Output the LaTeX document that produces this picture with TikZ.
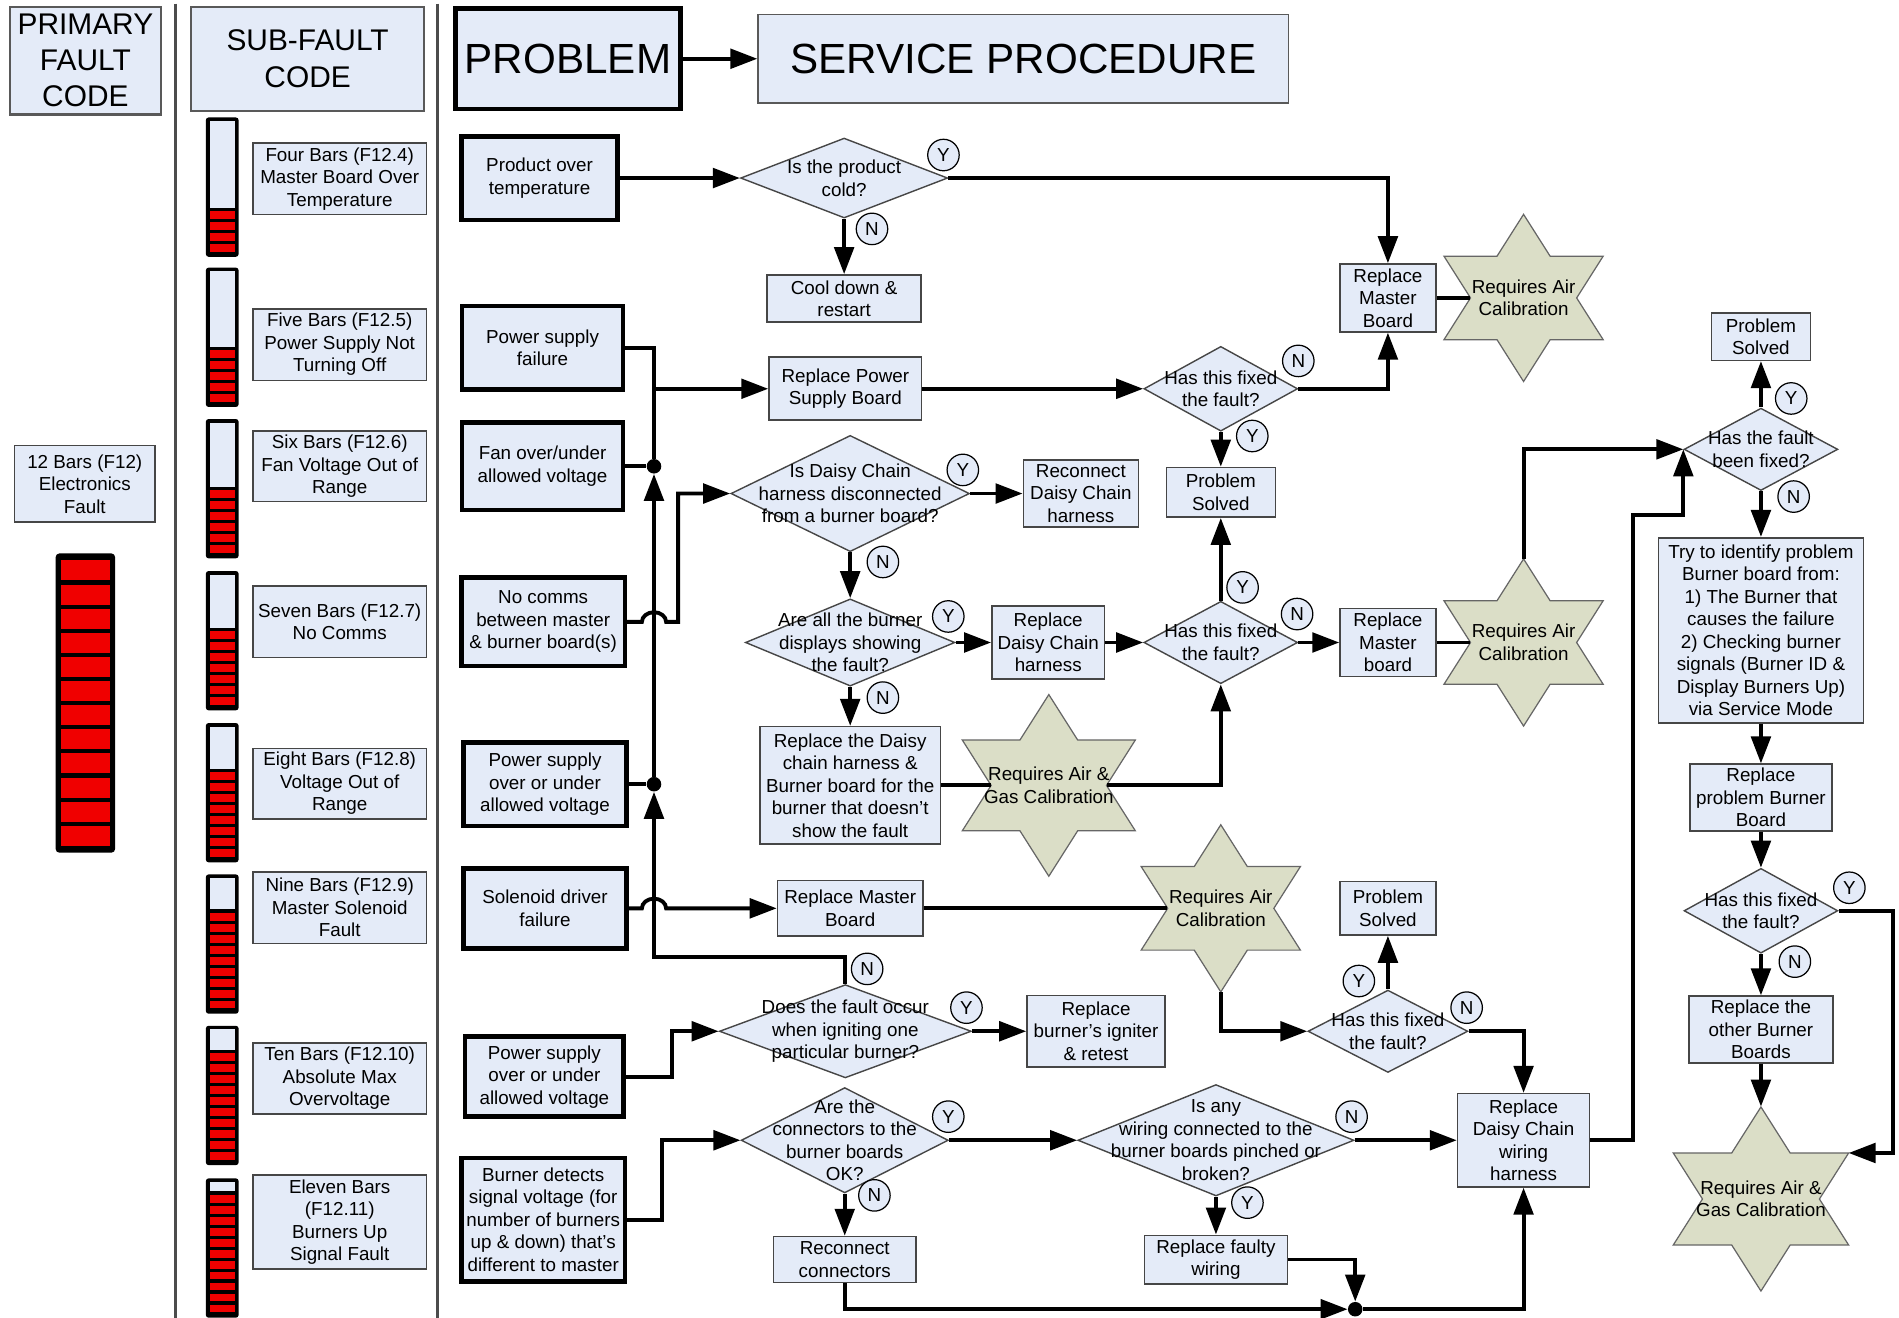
\documentclass[tikz,border=0pt]{standalone}
\usepackage{fontspec}
\setmainfont{Liberation Sans}
\usetikzlibrary{shapes.geometric,arrows.meta,positioning,calc}

\definecolor{boxfill}{RGB}{228,235,248}
\definecolor{starfill}{RGB}{219,222,199}
\definecolor{ledred}{RGB}{240,0,0}
\definecolor{edge}{RGB}{70,70,70}

\newcommand\pxu{0.02422cm}
\newcommand\boxfont{\fontsize{10.7}{12.8}\selectfont}

% LED bar: left x, top y, lit segments
\newcommand\ledbar[3]{%
  \fill[black, rounded corners=1.5pt] ({#1},{#2}) rectangle ++(27,115);
  \fill[boxfill] ({#1+3},{#2+3}) rectangle ({#1+24},{#2+3+(12-#3)*9.08-1.3});
  \foreach \j in {1,...,#3}
    \fill[ledred] ({#1+3},{#2+112-\j*9.08+1.3}) rectangle ({#1+24},{#2+112-(\j-1)*9.08-1.3});
}

% calibration star: name, x, y, outer radius, text
\newcommand\calstar[5]{%
  \filldraw[starshape, shift={(#2,#3)}] (0,-#4)
    \foreach \i [evaluate=\i as \rr using #4*(0.78868+0.21132*cos(180*\i))] in {1,...,11}
      { -- ({1.1*\rr*cos(90-30*\i)}, {-\rr*sin(90-30*\i)}) } -- cycle;
  \node[inner sep=0pt, sz={1.27*#4}{2*#4}] (#1) at (#2,#3) {};
  \node[qtext] (#1t) at (#1) {#5};
}

\begin{document}
\begin{tikzpicture}[
    x=\pxu, y=-\pxu,
    sz/.style 2 args={minimum width={#1*\pxu}, minimum height={#2*\pxu}},
    box/.style={rectangle, draw=edge, line width=0.9pt, fill=boxfill, align=center, inner sep=1pt, font=\boxfont},
    problem/.style={box, draw=black, line width=2.6pt},
    header/.style={box, draw=gray!70!black, line width=1.2pt, font=\fontsize{17}{20.6}\selectfont},
    title/.style={font=\fontsize{24}{28}\selectfont},
    decision/.style={diamond, draw=edge, line width=0.8pt, fill=boxfill, inner sep=0pt},
    qtext/.style={align=center, inner sep=0pt, font=\boxfont},
    yn/.style={circle, draw=black, line width=0.7pt, fill=boxfill, inner sep=0pt, minimum size=26*\pxu, font=\boxfont},
    dot/.style={circle, fill=black, inner sep=0pt, minimum size=12*\pxu},
    starshape/.style={fill=starfill, draw=gray!80!black, line width=0.7pt},
    link/.style={line width=2.2pt},
    arrow/.style={link, -{Triangle[length=5.4mm, width=3.9mm]}},
    sepline/.style={draw=gray!60!black, line width=1.5pt}
]
    \useasboundingbox (0,0) rectangle (1568,1088);

    % column rules
    \draw[sepline] (145,3) -- (145,1088);
    \draw[sepline] (361,3) -- (361,1088);

    % headers
    \node[header, sz={125}{89}] (PFC) at (70.5,50) {PRIMARY\\FAULT\\CODE};
    \node[header, sz={192}{86}] (SFC) at (254,48.5) {SUB-FAULT\\CODE};
    \node[problem, title, sz={186}{83}] (PROB) at (469,48.5) {PROBLEM};
    \node[box, title, draw=gray!70!black, sz={438}{73}] (SERV) at (845,48.5) {SERVICE PROCEDURE};

    % primary fault
    \node[box, sz={116}{63}] (F12) at (70,399.5) {12 Bars (F12)\\Electronics\\Fault};
    \fill[black, rounded corners=2pt] (46,457) rectangle (95,704);
    \foreach \j in {0,...,11}
        \fill[ledred] (50.5,{461+\j*19.92+1.7}) rectangle (90.5,{461+(\j+1)*19.92-1.7});

    % sub-fault codes
    \ledbar{170}{97}{4}
    \ledbar{170}{221}{5}
    \ledbar{170}{346}{6}
    \ledbar{170}{471.5}{7}
    \ledbar{170}{597}{8}
    \ledbar{170}{722}{9}
    \ledbar{170}{847}{10}
    \ledbar{170}{973}{11}
    \node[box, sz={143}{59}] (SF4) at (280.5,147.5) {Four Bars (F12.4)\\Master Board Over\\Temperature};
    \node[box, sz={143}{59}] (SF5) at (280.5,284.5) {Five Bars (F12.5)\\Power Supply Not\\Turning Off};
    \node[box, sz={143}{58}] (SF6) at (280.5,385) {Six Bars (F12.6)\\Fan Voltage Out of\\Range};
    \node[box, sz={143}{59}] (SF7) at (280.5,513.5) {Seven Bars (F12.7)\\No Comms};
    \node[box, sz={143}{58}] (SF8) at (280.5,647) {Eight Bars (F12.8)\\Voltage Out of\\Range};
    \node[box, sz={143}{59}] (SF9) at (280.5,749.5) {Nine Bars (F12.9)\\Master Solenoid\\Fault};
    \node[box, sz={143}{59}] (SF10) at (280.5,890.5) {Ten Bars (F12.10)\\Absolute Max\\Overvoltage};
    \node[box, sz={143}{78}] (SF11) at (280.5,1009) {Eleven Bars\\(F12.11)\\Burners Up\\Signal Fault};

    % problems
    \node[problem, sz={129}{69}] (P1) at (445.5,147) {Product over\\temperature};
    \node[problem, sz={133}{69}] (P2) at (448,287) {Power supply\\failure};
    \node[problem, sz={133}{72}] (P3) at (448,385) {Fan over/under\\allowed voltage};
    \node[problem, sz={135}{73}] (P4) at (448.5,513.5) {No comms\\between master\\\& burner board(s)};
    \node[problem, sz={135}{69}] (P5) at (450,647.5) {Power supply\\over or under\\allowed voltage};
    \node[problem, sz={135}{66}] (P6) at (450,750) {Solenoid driver\\failure};
    \node[problem, sz={131}{66}] (P7) at (449.5,889) {Power supply\\over or under\\allowed voltage};
    \node[problem, sz={135}{102}] (P8) at (448.5,1007) {Burner detects\\signal voltage (for\\number of burners\\up \& down) that's\\different to master};

    \node[dot] (J1) at (540,385) {};
    \node[dot] (J2) at (540,647.5) {};
    \coordinate (J3) at (540,790);

    % service procedure
    \node[decision, sz={171}{66}] (D1) at (697,147) {};
    \node[qtext] (D1t) at (D1) {Is the product\\cold?};
    \node[box, sz={127}{39}] (CD) at (697,246.5) {Cool down \&\\restart};
    \node[box, sz={126}{52}] (RPSB) at (698,321) {Replace Power\\Supply Board};
    \node[decision, sz={127}{70}] (D2) at (1008,321) {};
    \node[qtext] (D2t) at (D2) {Has this fixed\\the fault?};
    \node[box, sz={79}{56}] (RMB1) at (1146,246) {Replace\\Master\\Board};
    \calstar{S1}{1258}{246}{69}{Requires Air\\Calibration}
    \node[box, sz={90}{41}] (PS1) at (1008,406.5) {Problem\\Solved};

    \node[decision, sz={197}{96}] (D3) at (702,407.5) {};
    \node[qtext] (D3t) at (D3) {Is Daisy Chain\\harness disconnected\\from a burner board?};
    \node[box, sz={95}{55}] (RDC) at (892.5,407.5) {Reconnect\\Daisy Chain\\harness};
    \node[decision, sz={173}{72}] (D4) at (702,530.5) {};
    \node[qtext] (D4t) at (D4) {Are all the burner\\displays showing\\the fault?};
    \node[box, sz={93}{60}] (RDCH) at (865.5,530.5) {Replace\\Daisy Chain\\harness};
    \node[decision, sz={127}{68}] (D5) at (1008,530.5) {};
    \node[qtext] (D5t) at (D5) {Has this fixed\\the fault?};
    \node[box, sz={79}{56}] (RMB2) at (1146,530.5) {Replace\\Master\\board};
    \calstar{S3}{1258}{530.5}{69}{Requires Air\\Calibration}
    \node[box, sz={149}{97}] (RDB) at (702,648.5) {Replace the Daisy\\chain harness \&\\Burner board for the\\burner that doesn't\\show the fault};
    \calstar{S2}{866}{648.5}{75}{Requires Air \&\\Gas Calibration}

    \node[box, sz={120}{46}] (RMB3) at (702,750) {Replace Master\\Board};
    \calstar{S4}{1008}{750}{69}{Requires Air\\Calibration}
    \node[box, sz={79}{44}] (PS2) at (1146,750) {Problem\\Solved};
    \node[decision, sz={132}{68}] (D7) at (1146,851.5) {};
    \node[qtext] (D7t) at (D7) {Has this fixed\\the fault?};
    \node[decision, sz={208}{77}] (D8) at (698,851.5) {};
    \node[qtext] (D8t) at (D8) {Does the fault occur\\when igniting one\\particular burner?};
    \node[box, sz={114}{59}] (RBI) at (905,851.5) {Replace\\burner's igniter\\\& retest};

    \node[decision, sz={171}{87}] (D9) at (697.5,941.5) {};
    \node[qtext] (D9t) at (D9) {Are the\\connectors to the\\burner boards\\OK?};
    \node[box, sz={118}{38}] (RC) at (697.5,1040) {Reconnect\\connectors};
    \node[decision, sz={228}{92}] (D10) at (1004,941.5) {};
    \node[qtext] (D10t) at (D10) {Is any\\wiring connected to the\\burner boards pinched or\\broken?};
    \node[box, sz={118}{40}] (RFW) at (1004,1040) {Replace faulty\\wiring};
    \node[dot] (JB) at (1119,1081) {};
    \node[box, sz={109}{77}] (RDCW) at (1258,941.5) {Replace\\Daisy Chain\\wiring\\harness};
    \coordinate (C1) at (1348,425);

    \node[box, sz={82}{39}] (PS3) at (1454,278) {Problem\\Solved};
    \node[decision, sz={127}{68}] (D6) at (1454,371) {};
    \node[qtext] (D6t) at (D6) {Has the fault\\been fixed?};
    \node[box, sz={169}{153}] (TRY) at (1454,520.5) {Try to identify problem\\Burner board from:\\1) The Burner that\\causes the failure\\2) Checking burner\\signals (Burner ID \&\\Display Burners Up)\\via Service Mode};
    \node[box, sz={117}{55}] (RPB) at (1454,658.5) {Replace\\problem Burner\\Board};
    \node[decision, sz={127}{70}] (D11) at (1454,752) {};
    \node[qtext] (D11t) at (D11) {Has this fixed\\the fault?};
    \node[box, sz={119}{55}] (ROB) at (1454,850) {Replace the\\other Burner\\Boards};
    \calstar{S5}{1454}{990}{76}{Requires Air \&\\Gas Calibration}

    % connectors
    \draw[arrow] (PROB) -- (SERV);
    \draw[arrow] (P1) -- (D1);
    \draw[arrow] (D1.east) -| (RMB1.north);
    \draw[arrow] (D1) -- (CD);
    \draw[link] (P2.east) -| (J1 |- RPSB.west);
    \draw[arrow] (J1) |- (RPSB.west);
    \draw[link] (P3) -- (J1);
    \draw[link] (P5) -- (J2);
    \draw[arrow] (J2) -- (J1);
    \draw[arrow] (D8.north) |- (J3) -- (J2);
    \draw[arrow] (P4.east) -- ($(J1 |- P4.east)+(-10,0)$)
        arc[start angle=180, end angle=0, x radius=10*\pxu, y radius=8*\pxu]
        -| ($(D3.west)+(-43,0)$) -- (D3.west);
    \draw[arrow] (P6.east) -- ($(J2 |- P6.east)+(-10,0)$)
        arc[start angle=180, end angle=0, x radius=10*\pxu, y radius=8*\pxu]
        -- (RMB3.west);
    \draw[arrow] (P7.east) -- ++(38,0) |- (D8.west);
    \draw[arrow] (P8.east) -- ++(29,0) |- (D9.west);

    \draw[arrow] (RPSB) -- (D2);
    \draw[arrow] (D2.east) -| (RMB1.south);
    \draw[arrow] (D2) -- (PS1);
    \draw[link] (RMB1) -- (S1);
    \draw[arrow] (D3) -- (RDC);
    \draw[arrow] (D3) -- (D4);
    \draw[arrow] (D4) -- (RDCH);
    \draw[arrow] (RDCH) -- (D5);
    \draw[arrow] (D5) -- (PS1);
    \draw[arrow] (D5) -- (RMB2);
    \draw[link] (RMB2) -- (S3);
    \draw[arrow] (S3.north) |- (D6.west);
    \draw[arrow] (D4) -- (RDB);
    \draw[link] (RDB) -- (S2);
    \draw[arrow] (S2.east) -| (D5.south);
    \draw[link] (RMB3) -- (S4);
    \draw[arrow] (S4.south) |- (D7.west);
    \draw[arrow] (D7) -- (PS2);
    \draw[arrow] (D7.east) -| (RDCW.north);
    \draw[arrow] (D8) -- (RBI);
    \draw[arrow] (D9) -- (D10);
    \draw[arrow] (D9) -- (RC);
    \draw[arrow] (D10) -- (RDCW);
    \draw[arrow] (D10) -- (RFW);
    \draw[arrow] (RC.south) |- (JB);
    \draw[arrow] (RFW.east) -| (JB);
    \draw[arrow] (JB) -| (RDCW.south);
    \draw[arrow] (RDCW.east) -| (C1) -| (D6.west);
    \draw[arrow] (D6) -- (PS3);
    \draw[arrow] (D6) -- (TRY);
    \draw[arrow] (TRY) -- (RPB);
    \draw[arrow] (RPB) -- (D11);
    \draw[arrow] (D11) -- (ROB);
    \draw[arrow] (ROB) -- (S5);
    \draw[arrow] (D11.east) -| ($(S5)+(109,-38)$) -- ($(S5)+(72.4,-38)$);

    % yes / no marks
    \node[yn] (D1y) at (779,128) {Y};
    \node[yn] (D1n) at (720,189) {N};
    \node[yn] (D2n) at (1072,298) {N};
    \node[yn] (D2y) at (1034,360) {Y};
    \node[yn] (D3y) at (795,388) {Y};
    \node[yn] (D3n) at (729,464) {N};
    \node[yn] (D4y) at (783,509) {Y};
    \node[yn] (D4n) at (729,576) {N};
    \node[yn] (D5y) at (1026,485) {Y};
    \node[yn] (D5n) at (1071,507) {N};
    \node[yn] (D6y) at (1479,329) {Y};
    \node[yn] (D6n) at (1481,410) {N};
    \node[yn] (D7y) at (1122,810) {Y};
    \node[yn] (D7n) at (1211,832) {N};
    \node[yn] (D8n) at (716,800) {N};
    \node[yn] (D8y) at (798,832) {Y};
    \node[yn] (D9y) at (783,922) {Y};
    \node[yn] (D9n) at (722,987) {N};
    \node[yn] (D10n) at (1116,922) {N};
    \node[yn] (D10y) at (1030,993) {Y};
    \node[yn] (D11y) at (1527,733) {Y};
    \node[yn] (D11n) at (1482,794) {N};
\end{tikzpicture}
\end{document}
